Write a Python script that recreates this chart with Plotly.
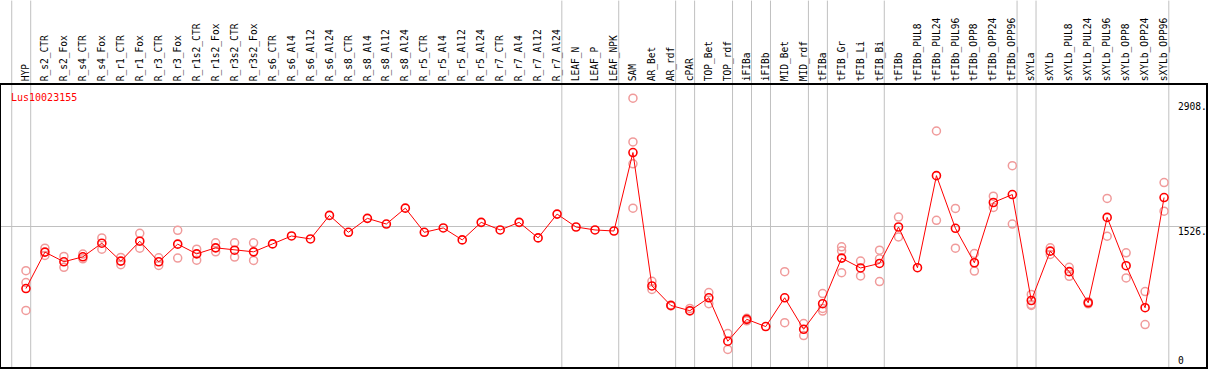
import plotly.graph_objects as go

categories = ["HYP", "R_s2_CTR", "R_s2_Fox", "R_s4_CTR", "R_s4_Fox", "R_r1_CTR", "R_r1_Fox",
              "R_r3_CTR", "R_r3_Fox", "R_r1s2_CTR", "R_r1s2_Fox", "R_r3s2_CTR", "R_r3s2_Fox",
              "R_s6_CTR", "R_s6_Al4", "R_s6_Al12", "R_s6_Al24", "R_s8_CTR", "R_s8_Al4", "R_s8_Al12",
              "R_s8_Al24", "R_r5_CTR", "R_r5_Al4", "R_r5_Al12", "R_r5_Al24", "R_r7_CTR", "R_r7_Al4",
              "R_r7_Al12", "R_r7_Al24", "LEAF_N", "LEAF_P", "LEAF_NPK", "SAM", "AR_Bet", "AR_rdf",
              "cPAR", "TOP_Bet", "TOP_rdf", "iFIBa", "iFIBb", "MID_Bet", "MID_rdf", "tFIBa",
              "tFIB_Gr", "tFIB_Li", "tFIB_Bi", "tFIBb", "tFIBb_PUL8", "tFIBb_PUL24", "tFIBb_PUL96",
              "tFIBb_OPP8", "tFIBb_OPP24", "tFIBb_OPP96", "sXYLa", "sXYLb", "sXYLb_PUL8",
              "sXYLb_PUL24", "sXYLb_PUL96", "sXYLb_OPP8", "sXYLb_OPP24", "sXYLb_OPP96"]

mean_values = [820, 1238, 1127, 1184, 1340, 1135, 1363, 1127, 1329, 1218, 1287, 1260, 1241,
               1332, 1423, 1389, 1659, 1465, 1625, 1560, 1742, 1465, 1515, 1378, 1579, 1492,
               1579, 1401, 1674, 1526, 1492, 1480, 2380, 850, 626, 566, 714, 216, 467, 384,
               714, 353, 646, 1169, 1056, 1108, 1526, 1059, 2115, 1511, 1116, 1807, 1898,
               683, 1249, 1014, 657, 1636, 1082, 600, 1864]

N = None
rep_a = [1025, 1283, 1188, 1215, 1401, 1177, 1454, 1173, 1488, 1272, 1344, 1344, 1344,
         N, N, N, N, N, N, N, N, N, N, N, N, N, N, N, N, N, N, N,
         3003, 903, 630, 592, 774, 304, 478, N, 1014, 418, 763, 1298, 1135, 1260, 1640,
         N, 2627, 1739, 1222, 1879, 2229, 752, 1287, 1063, 670, 1853, 1230, 786, 2035]
rep_b = [888, 1200, 1063, 1161, 1272, 1093, 1283, 1085, 1169, 1146, 1241, 1181, 1142,
         N, N, N, N, N, N, N, N, N, N, N, N, N, N, N, N, N, N, N,
         2502, 809, 620, 560, 646, 122, 450, N, 429, 281, 592, 1253, 965, 1161, 1412,
         N, 1602, 1283, 1021, 1750, 1560, 638, 1211, 960, 645, 1420, 942, 407, 1708]
rep_c = [569, N, N, N, N, N, N, N, N, N, N, N, N,
         N, N, N, N, N, N, N, N, N, N, N, N, N, N, N, N, N, N, N,
         2251, N, N, N, N, N, N, N, N, N, 562, 1002, N, 900, N,
         N, N, N, N, N, N, 626, N, N, N, N, N, N, N]
rep_d = [N] * 32 + [1742] + [N] * 28

separators_after = [-1, 0, 28, 31, 34, 35, 37, 38, 39, 41, 42, 45, 52, 53, 60]
y_tick_values = [2908, 1526, 0]
y_tick_text = ["2908.", "1526.", "0"]
gene = "Lus10023155"

x = list(range(len(categories)))
FONT = "DejaVu Sans Mono"
GRID = "#c0c0c0"

fig = go.Figure()
for reps in (rep_a, rep_b, rep_c, rep_d):
    fig.add_trace(go.Scatter(
        x=x, y=reps, mode="markers",
        marker=dict(symbol="circle-open", size=8, color="rgb(240,155,155)",
                    line=dict(width=1.5, color="rgb(240,155,155)")),
        showlegend=False, hoverinfo="skip"))

fig.add_trace(go.Scatter(
    x=x, y=mean_values, mode="lines+markers",
    line=dict(color="red", width=1),
    marker=dict(symbol="circle-open", size=8, color="red", line=dict(width=1.6, color="red")),
    showlegend=False))

H_PLOT = 284.0
for s in separators_after:
    fig.add_shape(type="line", xref="x", yref="paper", x0=s + 0.25, x1=s + 0.25,
                  y0=0, y1=369 / H_PLOT, line=dict(color=GRID, width=1), layer="below")

for v, t in zip(y_tick_values, y_tick_text):
    fig.add_annotation(xref="paper", yref="y", x=(1178 - 1) / 1207, y=v, text=t,
                       showarrow=False, xanchor="left", yanchor="middle",
                       yshift=-4.5 if v == 1526 else 0,
                       font=dict(family=FONT, size=9.6, color="black"))

fig.add_annotation(xref="paper", yref="paper", x=(9 - 1) / 1207, y=(369 - 98) / H_PLOT,
                   text=gene, showarrow=False, xanchor="left", yanchor="middle",
                   font=dict(family=FONT, size=10, color="red"))

fig.update_layout(
    width=1209, height=370,
    margin=dict(l=1, r=1, t=85, b=1, pad=0),
    paper_bgcolor="white", plot_bgcolor="white",
    xaxis=dict(range=[(1 - 26) / 19, (1208 - 26) / 19], side="top",
               tickmode="array", tickvals=x, ticktext=categories, tickangle=-90,
               ticks="", showgrid=False, zeroline=False,
               showline=True, mirror=True, linecolor="black", linewidth=1.5,
               tickfont=dict(family=FONT, size=9.6, color="black")),
    yaxis=dict(range=[-(369 - 362) / 0.08781, (362 - 85) / 0.08781],
               tickmode="array", tickvals=[1526], showticklabels=False, ticks="",
               showgrid=True, gridcolor=GRID, gridwidth=1, zeroline=False,
               showline=True, mirror=True, linecolor="black", linewidth=1.5),
)

fig.write_html("out.html", config={"displayModeBar": False},
               post_script="document.body.style.margin='0';document.body.style.overflow='hidden';")
